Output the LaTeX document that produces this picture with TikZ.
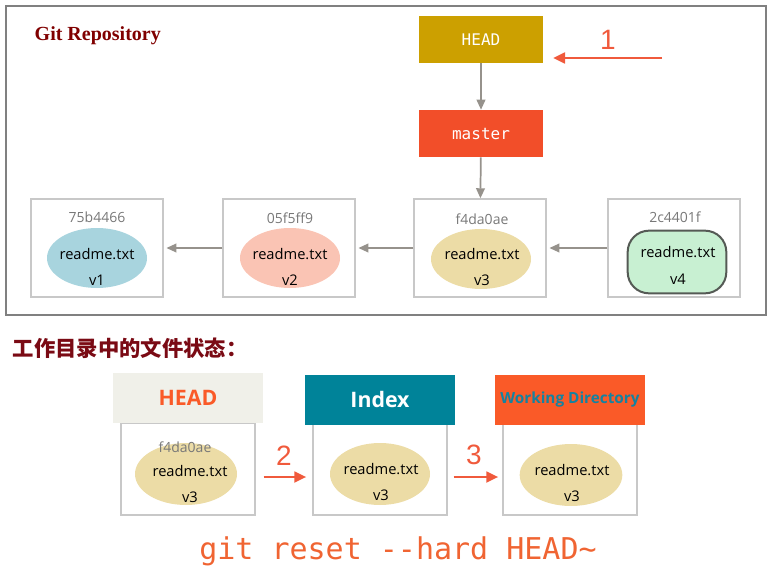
\documentclass[tikz,border=0pt]{standalone}
\usepackage{fontspec}
\setmainfont{Liberation Serif}
\newfontfamily\cjkfont{Noto Sans CJK SC}
\newfontfamily\opensans{Open Sans}
\newfontfamily\monofont{DejaVu Sans Mono}
\newfontfamily\thinsans{Liberation Sans}
\usetikzlibrary{arrows.meta,shapes.geometric}

\definecolor{framegray}{RGB}{128,128,128}
\definecolor{titlered}{RGB}{128,0,0}
\definecolor{cjkred}{RGB}{122,10,20}
\definecolor{headgold}{RGB}{204,160,0}
\definecolor{masterred}{RGB}{242,78,41}
\definecolor{boxgray}{RGB}{200,200,200}
\definecolor{hashgray}{RGB}{120,120,120}
\definecolor{arrowgray}{RGB}{150,146,140}
\definecolor{arrowred}{RGB}{240,90,60}
\definecolor{blobblue}{RGB}{168,212,222}
\definecolor{blobsalmon}{RGB}{250,196,180}
\definecolor{blobtan}{RGB}{236,220,166}
\definecolor{blobgreen}{RGB}{200,240,210}
\definecolor{greenedge}{RGB}{85,90,85}
\definecolor{headfill}{RGB}{240,240,233}
\definecolor{stageorange}{RGB}{250,90,40}
\definecolor{indexteal}{RGB}{0,131,153}
\definecolor{wdorange}{RGB}{250,90,40}
\definecolor{wdteal}{RGB}{20,130,160}
\definecolor{cmdorange}{RGB}{240,100,50}

\tikzset{
  refbox/.style={minimum width=93pt, minimum height=35.25pt, inner sep=0pt, text=white,
    font=\monofont\fontsize{12}{14}\selectfont},
  commitbox/.style={draw=boxgray, line width=1.1pt, minimum width=99pt, minimum height=73.5pt, inner sep=0pt},
  blob/.style={ellipse, minimum width=75pt, minimum height=45pt, inner sep=0pt},
  blobtext/.style={align=center, inner sep=0pt, font=\opensans\fontsize{11}{20}\selectfont},
  hashlbl/.style={text=hashgray, font=\opensans\fontsize{10.5}{12}\selectfont},
  grayarrow/.style={draw=arrowgray, line width=1.3pt, -{Triangle[length=7.5pt,width=6.5pt]}},
  redarrow/.style={draw=arrowred, line width=2pt, -{Triangle[length=9pt,width=8pt]}},
  stagehead/.style={minimum width=112.5pt, minimum height=37.5pt, inner sep=0pt,
    font=\opensans\bfseries\fontsize{16}{18}\selectfont},
  stagebox/.style={draw=boxgray, line width=1.1pt, minimum width=100.5pt, minimum height=69pt, inner sep=0pt},
  steplbl/.style={text=arrowred, font=\thinsans\fontsize{21}{24}\selectfont},
}

\begin{document}
\begin{tikzpicture}[x=0.75pt, y=-0.75pt]
\useasboundingbox (0,0) rectangle (775,585);

% repository frame
\draw[framegray, line width=1.5pt] (6,6) rectangle (766,315);
\node[anchor=west, text=titlered, font=\bfseries\fontsize{15}{18}\selectfont] (repotitle) at (30,36) {Git Repository};

\node[refbox, fill=headgold] (head) at (481,39.5) {HEAD};
\node[refbox, fill=masterred] (master) at (481,133.5) {master};

% commits
\node[commitbox] (c1) at (97,248) {};
\node[commitbox] (c2) at (289,248) {};
\node[commitbox] (c3) at (480,248) {};
\node[commitbox] (c4) at (674,248) {};

\node[hashlbl] (h1) at (97,217) {75b4466};
\node[hashlbl] (h2) at (290,218) {05f5ff9};
\node[hashlbl] (h3) at (482,219) {f4da0ae};
\node[hashlbl] (h4) at (675,217) {2c4401f};

\node[blob, fill=blobblue] (b1) at (97,258) {};
\node[blob, fill=blobsalmon] (b2) at (290,258) {};
\node[blob, fill=blobtan] (b3) at (481,259) {};
\node[blob, rectangle, rounded corners=16pt, fill=blobgreen, draw=greenedge, line width=1.5pt,
  minimum width=74pt, minimum height=47pt] (b4) at (677,262) {};
\node[blobtext] (t1) at (97,267) {readme.txt\\v1};
\node[blobtext] (t2) at (290,267) {readme.txt\\v2};
\node[blobtext] (t3) at (482,267) {readme.txt\\v3};
\node[blobtext] (t4) at (678,265.5) {readme.txt\\v4};

\draw[grayarrow] (head) -- (master);
\draw[grayarrow] (master) -- (c3);
\draw[grayarrow, shorten >=2pt] (c2) -- (c1);
\draw[grayarrow, shorten >=2pt] (c3) -- (c2);
\draw[grayarrow, shorten >=2pt] (c4) -- (c3);

% step 1
\coordinate (onestart) at (662,58);
\coordinate (oneend) at (553,58);
\draw[redarrow] (onestart) -- (oneend);
\node[steplbl] (one) at (608,40) {1};

\node[anchor=west, text=cjkred, font=\cjkfont\bfseries\fontsize{16}{19}\selectfont] (statetitle) at (8,348) {工作目录中的文件状态：};

% three trees
\node[stagebox] (hbox) at (188,469) {};
\node[stagebox] (ibox) at (380,469) {};
\node[stagebox] (wbox) at (570,469) {};

\node[stagehead, fill=headfill, text=stageorange] (hhead) at (188,398) {HEAD};
\node[stagehead, fill=indexteal, text=white] (ihead) at (380,399.5) {Index};
\node[stagehead, fill=wdorange, text=wdteal, font=\opensans\bfseries\fontsize{11.5}{13}\selectfont] (whead) at (570,399.5) {Working Directory};

\node[blob, fill=blobtan, minimum width=76.5pt, minimum height=46.5pt] (hb) at (186,474) {};
\node[blob, fill=blobtan, minimum width=75pt, minimum height=46.5pt] (ib) at (380,474) {};
\node[blob, fill=blobtan, minimum width=77pt, minimum height=46.5pt] (wb) at (571,475) {};
\node[hashlbl] (hh) at (185,447) {f4da0ae};
\node[blobtext] (ht) at (190,484) {readme.txt\\v3};
\node[blobtext] (it) at (381,482) {readme.txt\\v3};
\node[blobtext] (wt) at (572,483) {readme.txt\\v3};

\draw[redarrow, shorten <=6pt, shorten >=4.5pt] ([yshift=-6pt]hbox.east) -- ([yshift=-6pt]ibox.west);
\draw[redarrow, shorten <=4.5pt, shorten >=3pt] ([yshift=-6pt]ibox.east) -- ([yshift=-6pt]wbox.west);
\node[steplbl] (two) at (284,456) {2};
\node[steplbl] (three) at (474,455) {3};

\node[text=cmdorange, font=\monofont\fontsize{22.5}{26}\selectfont] (cmd) at (398,551) {git reset -{}-hard HEAD\textasciitilde};
\end{tikzpicture}
\end{document}
